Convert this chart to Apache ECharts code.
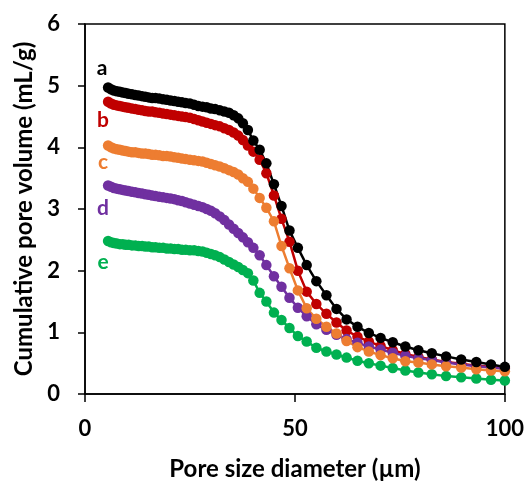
<!DOCTYPE html>
<html>
<head>
<meta charset="utf-8">
<script src="https://cdn.jsdelivr.net/npm/echarts@6/dist/echarts.min.js"></script>
<style>
html,body{margin:0;padding:0;background:#fff;}
#chart{width:527px;height:486px;}
</style>
</head>
<body>
<div id="chart"></div>
<script>
// Pore size diameter (µm) shared by all samples
var diameter = [5.5,6.2,6.9,7.6,8.3,9.0,9.7,10.4,11.2,12.0,12.8,13.6,14.4,15.2,16.0,16.8,17.7,18.6,19.5,20.4,21.3,22.2,23.1,24.0,25.0,26.0,27.0,28.0,29.0,30.0,31.0,32.1,33.2,34.3,35.4,36.5,37.6,38.8,40.1,41.6,43.2,45.0,46.8,48.7,50.7,52.8,55.1,57.5,59.9,62.3,64.9,67.6,70.4,73.3,76.3,79.4,82.6,86.0,89.6,93.2,96.7,100.0];

var seriesA = [4.97,4.94,4.92,4.91,4.90,4.89,4.88,4.87,4.86,4.85,4.84,4.83,4.82,4.81,4.80,4.80,4.79,4.78,4.77,4.76,4.75,4.74,4.73,4.72,4.71,4.69,4.67,4.66,4.65,4.63,4.62,4.60,4.58,4.56,4.52,4.47,4.39,4.28,4.11,3.96,3.74,3.40,3.05,2.65,2.37,2.09,1.83,1.60,1.38,1.21,1.09,0.99,0.91,0.84,0.77,0.71,0.66,0.61,0.56,0.52,0.48,0.44];
var seriesB = [4.74,4.71,4.69,4.68,4.67,4.66,4.65,4.64,4.63,4.62,4.61,4.60,4.59,4.58,4.58,4.57,4.56,4.55,4.54,4.53,4.52,4.51,4.50,4.49,4.48,4.46,4.44,4.42,4.40,4.38,4.36,4.34,4.31,4.28,4.24,4.19,4.12,4.03,3.93,3.80,3.58,3.22,2.84,2.47,2.00,1.66,1.46,1.30,1.16,1.03,0.93,0.85,0.78,0.71,0.65,0.60,0.56,0.52,0.49,0.46,0.44,0.42];
var seriesC = [4.03,4.00,3.98,3.97,3.96,3.95,3.94,3.93,3.92,3.92,3.91,3.90,3.90,3.89,3.88,3.88,3.87,3.86,3.86,3.85,3.84,3.83,3.82,3.81,3.80,3.79,3.78,3.77,3.75,3.73,3.71,3.69,3.66,3.63,3.60,3.56,3.50,3.44,3.33,3.18,3.02,2.80,2.40,2.04,1.68,1.39,1.22,1.09,0.98,0.86,0.76,0.69,0.63,0.58,0.53,0.51,0.48,0.45,0.43,0.40,0.38,0.37];
var seriesD = [3.38,3.36,3.34,3.33,3.32,3.31,3.30,3.29,3.28,3.27,3.26,3.25,3.24,3.23,3.22,3.21,3.20,3.19,3.18,3.17,3.16,3.14,3.13,3.11,3.09,3.07,3.05,3.03,3.00,2.97,2.93,2.88,2.82,2.75,2.68,2.61,2.54,2.46,2.37,2.25,2.09,1.91,1.74,1.56,1.40,1.26,1.13,1.04,0.96,0.89,0.83,0.77,0.72,0.67,0.62,0.58,0.55,0.51,0.48,0.45,0.43,0.41];
var seriesE = [2.48,2.46,2.45,2.44,2.43,2.43,2.42,2.42,2.41,2.41,2.40,2.40,2.39,2.39,2.38,2.38,2.37,2.37,2.36,2.36,2.35,2.35,2.34,2.34,2.33,2.33,2.32,2.31,2.29,2.27,2.25,2.22,2.18,2.14,2.10,2.06,2.01,1.96,1.84,1.64,1.50,1.32,1.20,1.07,0.94,0.85,0.75,0.69,0.64,0.59,0.54,0.50,0.46,0.42,0.38,0.35,0.32,0.29,0.27,0.25,0.23,0.22];

var sampleNames = ['a','b','c','d','e'];
var xTitle = 'Pore size diameter (µm)';
var yTitle = 'Cumulative pore volume (mL/g)';

var colors = {a:'#000000', b:'#C00000', c:'#ED7D31', d:'#7030A0', e:'#00B050'};
var FONT = 'Lato';

function pairs(ys){ return diameter.map(function(x,i){ return [x, ys[i]]; }); }
function mk(name, ys){
  return {
    name: name, type:'line', data: pairs(ys),
    symbol:'circle', symbolSize:10.5, showSymbol:true,
    lineStyle:{color:colors[name], width:2.5},
    itemStyle:{color:colors[name]},
    animation:false
  };
}

var labelPos = {a:[102,68], b:[103,120], c:[103,162], d:[103,208], e:[103,262]};
var graphics = sampleNames.map(function(n){
  return {type:'text', x:labelPos[n][0], y:labelPos[n][1],
    style:{text:n, fill:colors[n], font:'bold 21px '+FONT, align:'center', verticalAlign:'middle'}};
});

var chart = echarts.init(document.getElementById('chart'), null, {renderer:'canvas'});
chart.setOption({
  backgroundColor:'#fff',
  animation:false,
  grid:{left:85, right:21, top:24, bottom:86, show:true, borderColor:'#000', borderWidth:1.5, containLabel:false},
  xAxis:{
    type:'value', min:0, max:100, interval:50,
    name:xTitle, nameLocation:'middle', nameGap:63,
    nameTextStyle:{fontFamily:FONT, fontWeight:'bold', fontSize:24, color:'#000'},
    axisLine:{show:true, lineStyle:{color:'#000', width:1.5}},
    axisTick:{show:true, inside:false, length:8, lineStyle:{color:'#000', width:1.5}},
    axisLabel:{fontFamily:FONT, fontWeight:'bold', fontSize:22, color:'#000', margin:24},
    splitLine:{show:false}
  },
  yAxis:{
    type:'value', min:0, max:6, interval:1,
    name:yTitle, nameLocation:'middle', nameGap:47, nameRotate:90,
    nameTextStyle:{fontFamily:FONT, fontWeight:'bold', fontSize:24, color:'#000'},
    axisLine:{show:true, lineStyle:{color:'#000', width:1.5}},
    axisTick:{show:true, inside:false, length:7, lineStyle:{color:'#000', width:1.5}},
    axisLabel:{fontFamily:FONT, fontWeight:'bold', fontSize:22, color:'#000', margin:25},
    splitLine:{show:false}
  },
  graphic: graphics,
  series:[ mk('e', seriesE), mk('b', seriesB), mk('d', seriesD), mk('c', seriesC), mk('a', seriesA) ]
});
</script>
</body>
</html>
